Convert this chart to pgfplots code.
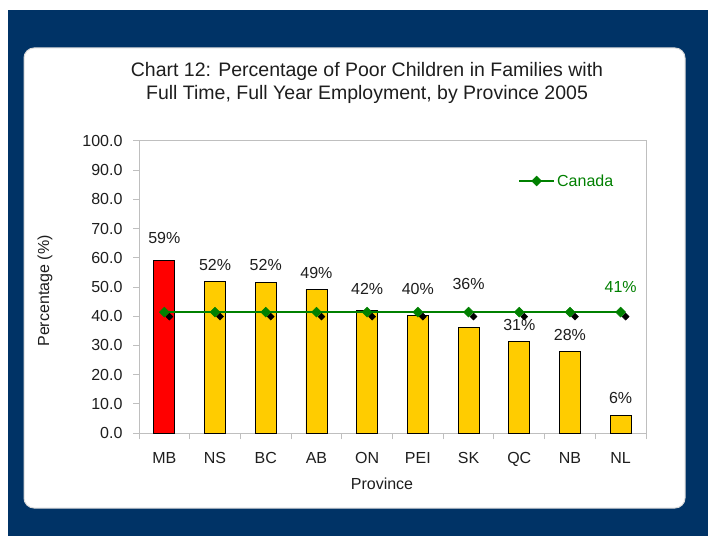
\documentclass[border=0pt]{standalone}
\usepackage{pgfplots}
\pgfplotsset{compat=1.18}
\usepackage{fontspec}
\setmainfont{Liberation Sans}

\definecolor{navy}{RGB}{0,51,102}
\definecolor{baryellow}{RGB}{255,204,0}
\definecolor{barred}{RGB}{255,0,0}
\definecolor{canada}{RGB}{0,128,0}
\definecolor{axisgray}{RGB}{191,191,191}
\definecolor{txt}{RGB}{30,30,30}

\newcommand{\lblfont}{\fontsize{16}{19}\selectfont}

\begin{document}
\begin{tikzpicture}
% background frame
\fill[white] (0pt,0pt) rectangle (708pt,536pt);
\fill[navy] (8pt,0pt) rectangle (708pt,526pt);
\filldraw[fill=white, draw=black!15, rounded corners=10pt, line width=1pt] (24pt,28pt) rectangle (685pt,488pt);

\node[align=center, font=\fontsize{19.5}{23}\selectfont, text=txt] at (367pt,453.5pt)
  {Chart 12: Percentage of Poor Children in Families with\\Full Time, Full Year Employment, by Province 2005};
\node[rotate=90, font=\lblfont, text=txt] at (45pt,245pt) {Percentage (\%)};
\node[font=\lblfont, text=txt] at (382pt,52pt) {Province};

\begin{axis}[
  at={(139pt,103pt)}, anchor=south west,
  scale only axis, width=507pt, height=292pt,
  xmin=-0.5, xmax=9.5, ymin=0, ymax=100,
  axis line style={axisgray, line width=1pt},
  xtick={0,...,9},
  xticklabels={MB,NS,BC,AB,ON,PEI,SK,QC,NB,NL},
  minor xtick={-0.5,0.5,...,9.5},
  major x tick style={draw=none},
  minor x tick style={axisgray, line width=1pt},
  ytick={0,10,...,100},
  y tick style={axisgray, line width=1pt},
  tick align=outside, xtick pos=left, ytick pos=left,
  major tick length=6pt, minor tick length=6pt,
  /pgf/number format/assume math mode=true,
  yticklabel style={xshift=-7pt, /pgf/number format/.cd, fixed, fixed zerofill, precision=1},
  xticklabel style={yshift=-10pt},
  tick label style={font=\lblfont, text=txt},
  legend style={draw=none, fill=none, at={(0.7475,0.863)}, anchor=west,
    font=\lblfont, text=canada, inner sep=0pt},
  legend image code/.code={\draw[mark repeat=2,mark phase=2,#1] plot coordinates {(0pt,0pt) (17.5pt,0pt) (35pt,0pt)};},
  clip=false,
]
% bars
\addplot[ybar, bar width=21pt, bar shift=0pt, fill=barred, draw=black, line width=0.8pt, forget plot]
  coordinates {(0,59.0)};
\addplot[ybar, bar width=21pt, bar shift=0pt, fill=baryellow, draw=black, line width=0.8pt, forget plot]
  coordinates {(1,52.0) (2,51.5) (3,49.3) (4,42.0) (5,40.2) (6,36.2) (7,31.4) (8,28.0) (9,6.1)};
% marker shadow
\addplot[only marks, mark=square*, mark size=2.5pt, mark options={rotate=45, fill=black, draw=black},
  xshift=5pt, yshift=-4.5pt, forget plot]
  coordinates {(0,41.4) (1,41.4) (2,41.4) (3,41.4) (4,41.4) (5,41.4) (6,41.4) (7,41.4) (8,41.4) (9,41.4)};
% Canada line
\addplot[canada, line width=2pt, mark=square*, mark size=3.5pt,
  mark options={rotate=45, fill=canada, draw=canada, line width=0.5pt}]
  coordinates {(0,41.4) (1,41.4) (2,41.4) (3,41.4) (4,41.4) (5,41.4) (6,41.4) (7,41.4) (8,41.4) (9,41.4)};
\addlegendentry{Canada}

% data labels
\node[font=\lblfont, text=txt] at (axis cs:0,66.8) {59\%};
\node[font=\lblfont, text=txt] at (axis cs:1,57.5) {52\%};
\node[font=\lblfont, text=txt] at (axis cs:2,57.5) {52\%};
\node[font=\lblfont, text=txt] at (axis cs:3,54.9) {49\%};
\node[font=\lblfont, text=txt] at (axis cs:4,49.3) {42\%};
\node[font=\lblfont, text=txt] at (axis cs:5,49.3) {40\%};
\node[font=\lblfont, text=txt] at (axis cs:6,51.0) {36\%};
\node[font=\lblfont, text=txt] at (axis cs:7,36.9) {31\%};
\node[font=\lblfont, text=txt] at (axis cs:8,33.6) {28\%};
\node[font=\lblfont, text=txt] at (axis cs:9,11.9) {6\%};
\node[font=\lblfont, text=canada] at (axis cs:9,50.1) {41\%};
\end{axis}
\end{tikzpicture}
\end{document}
